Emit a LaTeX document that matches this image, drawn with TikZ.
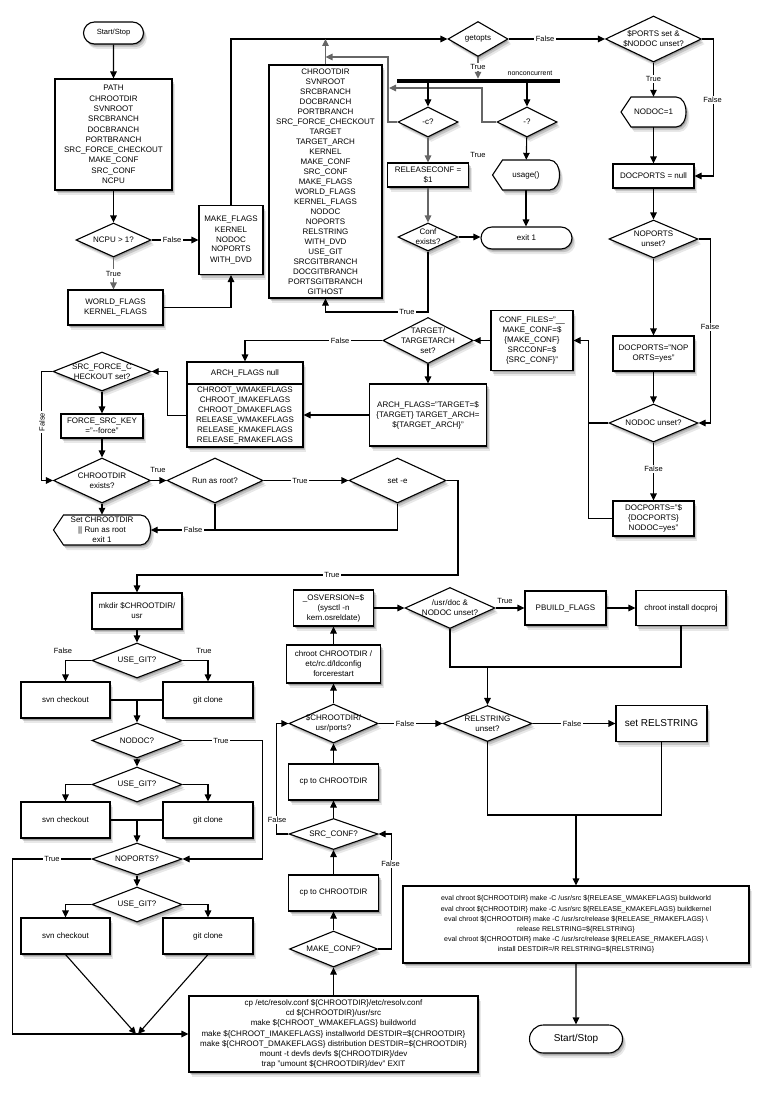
\documentclass[tikz,border=0pt]{standalone}
\usepackage{fontspec}
\setmainfont{Liberation Sans}
\usetikzlibrary{shapes.geometric,shapes.misc,shadows,arrows.meta}
\newcommand\fs[2]{\fontsize{#1}{#2}\selectfont}
\newcommand\dispnode[6]{%
 \draw[dispst] ({#2-#4/2+10},{#3-#5/2}) -- ({#2+#4/2-10},{#3-#5/2}) .. controls +(13.3,0) and +(13.3,0) .. ({#2+#4/2-10},{#3+#5/2}) -- ({#2-#4/2+10},{#3+#5/2}) -- ({#2-#4/2},#3) -- cycle;
 \node[disp, minimum width=#4, minimum height=#5] (#1) at (#2,#3) {#6};}
\begin{document}
\begin{tikzpicture}[x=1pt,y=-1pt,
  shd/.style={drop shadow={shadow xshift=1pt,shadow yshift=-1.5pt,opacity=.2,fill=black},
              drop shadow={shadow xshift=2.2pt,shadow yshift=-3.2pt,opacity=.15,fill=black},
              drop shadow={shadow xshift=3.4pt,shadow yshift=-5pt,opacity=.09,fill=black}},
  box/.style={draw,line width=1.1pt,fill=white,shd,align=center,inner sep=0pt,font=\fs{8}{10}},
  dec/.style={diamond,draw,line width=1.1pt,fill=white,shd,inner sep=0pt},
  dtxt/.style={align=center,inner sep=0pt,font=\fs{8}{10}},
  pill/.style={rounded rectangle,draw,line width=1.1pt,fill=white,shd,inner sep=0pt},
  disp/.style={inner sep=0pt,align=center,font=\fs{8}{10}},
  dispst/.style={draw,line width=1.1pt,fill=white,shd},
  arr/.style={line width=1.1pt,-{Triangle[length=7pt,width=6.5pt]}},
  ln/.style={line width=1.1pt},
  gry/.style={draw=black!60},
  lbl/.style={fill=white,inner sep=1.5pt,font=\fs{7.5}{9}},
  lblc/.style={inner sep=1pt,font=\fs{7.5}{9}}
]
\fill[white] (0,0) rectangle (769,1097);
\useasboundingbox (0,0) rectangle (769,1097);

% ---------- top left ----------
\node[pill,font=\fs{7.5}{9},minimum width=60,minimum height=22] (start1) at (113.5,33) {Start/Stop};
\node[box,minimum width=117,minimum height=111,font=\fs{8}{10.3}] (vars1) at (113.5,134.5) {PATH\\CHROOTDIR\\SVNROOT\\SRCBRANCH\\DOCBRANCH\\PORTBRANCH\\SRC\_FORCE\_CHECKOUT\\MAKE\_CONF\\SRC\_CONF\\NCPU};
\node[dec,minimum width=75,minimum height=34,label={[dtxt]center:{NCPU > 1?}}] (ncpu) at (113.5,240) {};
\node[box,minimum width=64,minimum height=69] (mflags) at (231,240) {MAKE\_FLAGS\\KERNEL\\NODOC\\NOPORTS\\WITH\_DVD};
\node[box,minimum width=95,minimum height=35] (wflags) at (115.5,307.5) {WORLD\_FLAGS\\KERNEL\_FLAGS};
\node[box,minimum width=113,minimum height=233] (vars2) at (325.5,181.5) {CHROOTDIR\\SVNROOT\\SRCBRANCH\\DOCBRANCH\\PORTBRANCH\\SRC\_FORCE\_CHECKOUT\\TARGET\\TARGET\_ARCH\\KERNEL\\MAKE\_CONF\\SRC\_CONF\\MAKE\_FLAGS\\WORLD\_FLAGS\\KERNEL\_FLAGS\\NODOC\\NOPORTS\\RELSTRING\\WITH\_DVD\\USE\_GIT\\SRCGITBRANCH\\DOCGITBRANCH\\PORTSGITBRANCH\\GITHOST};

% ---------- top middle ----------
\node[dec,minimum width=60,minimum height=35,label={[dtxt]center:{getopts}}] (getopts) at (478,39) {};
\node[fill=black,minimum width=163,minimum height=4,inner sep=0pt] (bar) at (478.5,81) {};
\node[lblc,font=\fs{7}{9}] (nctext) at (530,73) {nonconcurrent};
\node[dec,minimum width=60,minimum height=30,label={[dtxt]center:{-c?}}] (cq) at (428,122) {};
\node[dec,minimum width=60,minimum height=30,label={[dtxt]center:{-?}}] (mq) at (527,122) {};
\node[box,minimum width=81,minimum height=24] (relconf) at (428,175) {RELEASECONF =\\\$1};
\node[dec,minimum width=60,minimum height=28,label={[dtxt]center:{Conf\\exists?}}] (confq) at (428,237) {};
\node[pill,font=\fs{8}{10},minimum width=91,minimum height=22] (exit1) at (526.5,238) {exit 1};
\dispnode{usage}{526}{175}{67}{30}{usage()}

% ---------- right column ----------
\node[dec,minimum width=96,minimum height=46,label={[dtxt]center:{\$PORTS set \&\\\$NODOC unset?}}] (ports) at (653.5,39) {};
\dispnode{nodoc1}{653.5}{112}{65}{30}{NODOC=1}
\node[box,minimum width=81,minimum height=24] (dnull) at (653.5,176) {DOCPORTS = null};
\node[dec,minimum width=89,minimum height=38,label={[dtxt]center:{NOPORTS\\unset?}}] (noportsu) at (653.5,239) {};
\node[box,minimum width=81,minimum height=35] (dpno) at (653.5,353.5) {DOCPORTS="NOP\\ORTS=yes"};
\node[dec,minimum width=89,minimum height=38,label={[dtxt]center:{NODOC unset?}}] (nodocu) at (653.5,423) {};
\node[box,minimum width=81,minimum height=35] (dpdoc) at (653.5,518.5) {DOCPORTS="\$\\\{DOCPORTS\}\\NODOC=yes"};
\node[box,minimum width=82,minimum height=60] (conff) at (532,340.5) {CONF\_FILES="\_\_\\MAKE\_CONF=\$\\\{MAKE\_CONF\}\\SRCCONF=\$\\\{SRC\_CONF\}"};

% ---------- middle band ----------
\node[dec,minimum width=90,minimum height=46,label={[dtxt]center:{TARGET/\\TARGETARCH\\set?}}] (target) at (428,340.5) {};
\node[box,minimum width=117,minimum height=62] (archf) at (428,415) {ARCH\_FLAGS="TARGET=\$\\\{TARGET\} TARGET\_ARCH=\\\$\{TARGET\_ARCH\}"};
\node[box,minimum width=116,minimum height=22] (archn) at (245,373) {ARCH\_FLAGS null};
\node[box,minimum width=116,minimum height=63] (archl) at (245,415.5) {CHROOT\_WMAKEFLAGS\\CHROOT\_IMAKEFLAGS\\CHROOT\_DMAKEFLAGS\\RELEASE\_WMAKEFLAGS\\RELEASE\_KMAKEFLAGS\\RELEASE\_RMAKEFLAGS};
\node[dec,minimum width=98,minimum height=39,label={[dtxt]center:{SRC\_FORCE\_C\\HECKOUT set?}}] (srcforce) at (102,371.5) {};
\node[box,minimum width=82,minimum height=24] (forcekey) at (102,426) {FORCE\_SRC\_KEY\\="-{}-force"};
\node[dec,minimum width=97,minimum height=45,label={[dtxt]center:{CHROOTDIR\\exists?}}] (chrootex) at (102,480.5) {};
\node[dec,minimum width=96,minimum height=45,label={[dtxt]center:{Run as root?}}] (runroot) at (215,480.5) {};
\node[dec,minimum width=97,minimum height=45,label={[dtxt]center:{set -e}}] (sete) at (397.5,480.5) {};
\dispnode{setchroot}{102}{530}{97}{30}{Set CHROOTDIR\\|| Run as root\\exit 1}

% ---------- lower left ----------
\node[box,minimum width=90,minimum height=36] (mkdir) at (137,611) {mkdir \$CHROOTDIR/\\usr};
\node[dec,minimum width=90,minimum height=35,label={[dtxt]center:{USE\_GIT?}}] (ug1) at (137,660.5) {};
\node[box,minimum width=89,minimum height=36] (svn1) at (65.5,700) {svn checkout};
\node[box,minimum width=90,minimum height=36] (git1) at (208,700) {git clone};
\node[dec,minimum width=90,minimum height=35,label={[dtxt]center:{NODOC?}}] (nodocq) at (137,740.5) {};
\node[dec,minimum width=90,minimum height=35,label={[dtxt]center:{USE\_GIT?}}] (ug2) at (137,784.5) {};
\node[box,minimum width=89,minimum height=36] (svn2) at (65.5,820) {svn checkout};
\node[box,minimum width=90,minimum height=36] (git2) at (208,820) {git clone};
\node[dec,minimum width=90,minimum height=32,label={[dtxt]center:{NOPORTS?}}] (noportsq) at (137,859) {};
\node[dec,minimum width=90,minimum height=35,label={[dtxt]center:{USE\_GIT?}}] (ug3) at (137,904.5) {};
\node[box,minimum width=89,minimum height=36] (svn3) at (65.5,936) {svn checkout};
\node[box,minimum width=90,minimum height=36] (git3) at (208,936) {git clone};
\node[box,minimum width=289,minimum height=76,font=\fs{8}{10.2}] (big) at (333.5,1034) {cp /etc/resolv.conf \$\{CHROOTDIR\}/etc/resolv.conf\\cd \$\{CHROOTDIR\}/usr/src\\make \$\{CHROOT\_WMAKEFLAGS\} buildworld\\make \$\{CHROOT\_IMAKEFLAGS\} installworld DESTDIR=\$\{CHROOTDIR\}\\make \$\{CHROOT\_DMAKEFLAGS\} distribution DESTDIR=\$\{CHROOTDIR\}\\mount -t devfs devfs \$\{CHROOTDIR\}/dev\\trap "umount \$\{CHROOTDIR\}/dev" EXIT};

% ---------- lower middle ----------
\node[dec,minimum width=88,minimum height=36,label={[dtxt]center:{MAKE\_CONF?}}] (makeconf) at (333.5,949) {};
\node[box,minimum width=90,minimum height=36] (cp1) at (333.5,893) {cp to CHROOTDIR};
\node[dec,minimum width=89,minimum height=31,label={[dtxt]center:{SRC\_CONF?}}] (srcconf) at (333.5,834) {};
\node[box,minimum width=90,minimum height=36] (cp2) at (333.5,782) {cp to CHROOTDIR};
\node[dec,minimum width=89,minimum height=39,label={[dtxt]center:{\$CHROOTDIR/\\usr/ports?}}] (portsq) at (333.5,723.5) {};
\node[box,minimum width=94,minimum height=38] (chroot) at (333.5,664) {chroot CHROOTDIR /\\etc/rc.d/ldconfig\\forcerestart};
\node[box,minimum width=80,minimum height=36] (osv) at (333.5,608) {\_OSVERSION=\$\\(sysctl -n\\kern.osreldate)};
\node[dec,minimum width=90,minimum height=41,label={[dtxt]center:{/usr/doc \&\\NODOC unset?}}] (usrdoc) at (450,608) {};
\node[box,minimum width=81,minimum height=34] (pbuild) at (565.5,608) {PBUILD\_FLAGS};
\node[box,minimum width=90,minimum height=35] (docproj) at (681,608) {chroot install docproj};
\node[dec,minimum width=89,minimum height=36,label={[dtxt]center:{RELSTRING\\unset?}}] (relq) at (487.5,723.5) {};
\node[box,minimum width=91,minimum height=36,font=\fs{10}{12}] (setrel) at (661.5,723.5) {set RELSTRING};
\node[box,minimum width=346,minimum height=77,font=\fs{7}{10.2}] (eval) at (576,924.5) {eval chroot \$\{CHROOTDIR\} make -C /usr/src \$\{RELEASE\_WMAKEFLAGS\} buildworld\\eval chroot \$\{CHROOTDIR\} make -C /usr/src \$\{RELEASE\_KMAKEFLAGS\} buildkernel\\eval chroot \$\{CHROOTDIR\} make -C /usr/src/release \$\{RELEASE\_RMAKEFLAGS\} \textbackslash\\release RELSTRING=\$\{RELSTRING\}\\eval chroot \$\{CHROOTDIR\} make -C /usr/src/release \$\{RELEASE\_RMAKEFLAGS\} \textbackslash\\install DESTDIR=/R RELSTRING=\$\{RELSTRING\}};
\node[pill,font=\fs{10}{12},minimum width=93,minimum height=28] (start2) at (576,1039) {Start/Stop};

% ---------- coordinates ----------
\coordinate (j1) at (325.5,39);
\coordinate (r1) at (388,57);
\coordinate (r2) at (482,88);
\coordinate (r3) at (389,88);
\coordinate (r4) at (325.5,312);
\coordinate (r6) at (458,575);
\coordinate (m1) at (137,700);
\coordinate (m2) at (137,820);
\coordinate (m3) at (137,1034);
\coordinate (r7) at (681,667);
\coordinate (r8) at (487.5,667);
\coordinate (r9) at (661.5,815);
\coordinate (r10) at (576,815);

% ---------- connectors ----------
\draw[arr] (start1) -- (vars1);
\draw[arr] (vars1) -- (ncpu);
\draw[arr] (ncpu) -- (mflags);
\draw[arr,gry] (ncpu.south) -- (ncpu.south |- wflags.north);
\draw[arr] (wflags.east) -| (mflags.south);
\draw[arr] (mflags.north) |- (getopts.west);
\draw[arr,gry] (vars2.north) -- (j1);
\draw[arr,gry] (cq.west) -| (r1) -- (vars2.north |- r1);
\draw[arr,gry] (mq.west) -| (r2) -- (r3);
\draw[arr,gry] (getopts.south) -- (getopts.south |- bar.north);
\draw[arr] (bar.south -| cq) -- (cq);
\draw[arr] (bar.south -| mq) -- (mq);
\draw[arr,gry] (cq) -- (relconf);
\draw[arr,gry] (relconf) -- (confq);
\draw[arr] (confq.east) -- (confq.east -| exit1.west);
\draw[arr] (mq) -- (usage);
\draw[arr] (usage.south) -- (usage.south |- exit1.north);
\draw[arr] (confq.south) |- (r4) -- (vars2.south);

\draw[arr] (getopts.east) -- (ports.west);
\draw[arr] (ports) -- (nodoc1);
\draw[arr] (nodoc1) -- (dnull);
\draw[arr] (ports.east) -- ++(11,0) |- (dnull.east);
\draw[arr] (dnull) -- (noportsu);
\draw[arr] (noportsu.east) -- ++(12,0) |- (nodocu.east);
\draw[arr] (noportsu) -- (dpno);
\draw[arr] (dpno) -- (nodocu);
\draw[arr] (nodocu) -- (dpdoc);
\draw[arr] (nodocu.west) -- ++(-20,0) |- (conff.east);
\draw[ln] (dpdoc.west) -| ([xshift=-20pt]nodocu.west);
\draw[arr] (conff.west) -- (conff.west -| target.east);
\draw[arr] (target.west) -| (archn.north);
\draw[arr] (target) -- (archf);
\draw[arr] (archf.west) -- (archf.west -| archl.east);
\draw[arr] (archl.west) -- ++(-19,0) |- (srcforce.east);
\draw[arr] (srcforce.west) -- ++(-11,0) |- (chrootex.west);
\draw[arr] (srcforce) -- (forcekey);
\draw[arr] (forcekey) -- (chrootex);
\draw[arr] (chrootex) -- (runroot);
\draw[arr] (chrootex) -- (setchroot);
\draw[arr] (runroot) -- (sete);
\draw[arr] (runroot.south) |- (setchroot.east);
\draw[ln] (sete.south) |- (runroot.south |- setchroot.east);
\draw[arr] (sete.east) -| (r6) -| (mkdir.north);

\draw[arr] (mkdir) -- (ug1);
\draw[arr] (ug1.west) -| (svn1.north);
\draw[arr] (ug1.east) -| (git1.north);
\draw[ln] (svn1.east) -- (git1.west);
\draw[arr] (m1) -- (nodocq);
\draw[arr] (nodocq.east) -- ++(80,0) |- (noportsq.east);
\draw[arr] (nodocq) -- (ug2);
\draw[arr] (ug2.west) -| (svn2.north);
\draw[arr] (ug2.east) -| (git2.north);
\draw[ln] (svn2.east) -- (git2.west);
\draw[arr] (m2) -- (noportsq);
\draw[arr] (noportsq) -- (ug3);
\draw[arr] (ug3.west) -| (svn3.north);
\draw[arr] (ug3.east) -| (git3.north);
\draw[arr] (noportsq.west) -- ++(-79,0) |- (big.west);
\draw[arr] (svn3.south) -- ([xshift=-1pt]m3);
\draw[arr] (git3.south) -- ([xshift=1pt]m3);

\draw[arr] (big) -- (makeconf);
\draw[arr] (makeconf) -- (cp1);
\draw[arr] (makeconf.east) -- ++(13,0) |- (srcconf.east);
\draw[arr] (cp1) -- (srcconf);
\draw[arr] (srcconf) -- (cp2);
\draw[arr] (srcconf.west) -- ++(-12,0) |- (portsq.west);
\draw[arr] (cp2) -- (portsq);
\draw[arr] (portsq) -- (chroot);
\draw[arr] (chroot) -- (osv);
\draw[arr] (portsq.east) -- (relq.west);
\draw[arr] (osv.east) -- (usrdoc.west);
\draw[arr] (usrdoc) -- (pbuild);
\draw[arr] (pbuild) -- (docproj);
\draw[ln] (usrdoc.south) |- (r7) -- (docproj.south);
\draw[arr] (r8) -- (relq);
\draw[arr] (relq) -- (setrel);
\draw[ln] (relq.south) |- (r9) -- (setrel.south);
\draw[arr] (r10) -- (eval);
\draw[arr] (eval) -- (start2);

% ---------- labels ----------
\node[lbl] (t1) at (172,240) {False};
\node[lbl] (t2) at (113.5,273.5) {True};
\node[lbl] (t3) at (478,67) {True};
\node[lblc] (t4) at (478,155) {True};
\node[lbl] (t5) at (407,312) {True};
\node[lbl] (t6) at (545,39) {False};
\node[lbl] (t7) at (653.5,79) {True};
\node[lbl] (t8) at (712.5,100) {False};
\node[lbl] (t9) at (710,327) {False};
\node[lbl] (t10) at (653.5,469) {False};
\node[lbl] (t11) at (340,340.5) {False};
\node[lbl,rotate=90] (t12) at (42,422) {False};
\node[lblc] (t13) at (158,470) {True};
\node[lbl] (t14) at (300,480.5) {True};
\node[lbl] (t15) at (193,530) {False};
\node[lbl] (t16) at (332,575) {True};
\node[lblc] (t17) at (63,651) {False};
\node[lblc] (t18) at (204,651) {True};
\node[lbl] (t19) at (221,740.5) {True};
\node[lbl] (t20) at (52,859) {True};
\node[lbl] (t21) at (390.5,864) {False};
\node[lbl] (t22) at (277,820) {False};
\node[lbl] (t23) at (405,723.5) {False};
\node[lblc] (t24) at (505,601) {True};
\node[lbl] (t25) at (572,723.5) {False};
\end{tikzpicture}
\end{document}
